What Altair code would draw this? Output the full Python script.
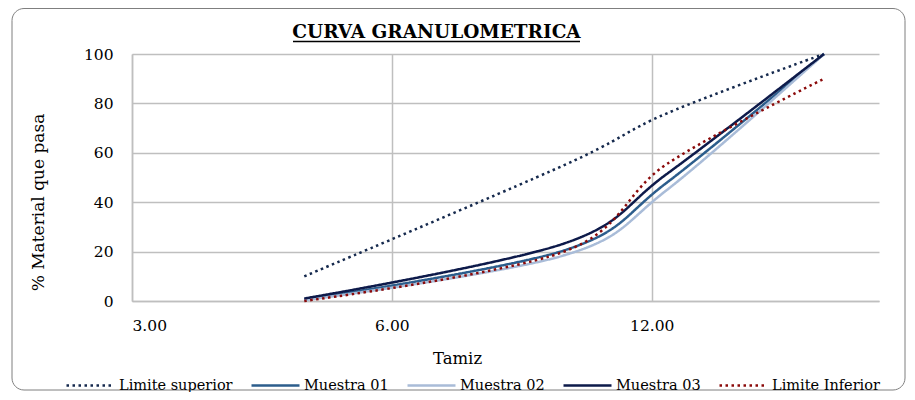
import altair as alt
import pandas as pd

# ---- data ----
tamiz = [4.75, 9.5, 12.5, 19.0]
series_names = ["Limite superior", "Muestra 01", "Muestra 02", "Muestra 03", "Limite Inferior"]
limite_superior = [10, 55, 76, 100]
muestra_01 = [0.6, 20.5, 48, 100]
muestra_02 = [0.3, 18.5, 45, 100]
muestra_03 = [1.0, 23.3, 51.5, 100]
limite_inferior = [0, 20, 55.5, 90]
x_ticks = [3, 6, 12]
y_ticks = [0, 20, 40, 60, 80, 100]
chart_title = "CURVA GRANULOMETRICA"

colors = ["#15294d", "#2c5d8c", "#a9bcd8", "#0d1a4a", "#8b0a0a"]
dashes = [[2.5, 3.5], [1, 0], [1, 0], [1, 0], [2.5, 3.5]]

rows = []
for name, vals in zip(series_names, [limite_superior, muestra_01, muestra_02, muestra_03, limite_inferior]):
    for x, y in zip(tamiz, vals):
        rows.append({"serie": name, "tamiz": x, "pasa": y})
df = pd.DataFrame(rows)

FONT = "DejaVu Serif"

legend = alt.Legend(
    title=None, orient="none", legendX=-67, legendY=306, direction="horizontal",
    columns=5, symbolType="stroke", symbolSize=2304, symbolStrokeWidth=2.5,
    labelFont=FONT, labelFontSize=14.5, labelColor="#000000", labelOffset=3,
    columnPadding=13, padding=0, labelLimit=300,
)

lines = alt.Chart(df).mark_line(interpolate="cardinal", strokeWidth=2.5, clip=False).encode(
    x=alt.X("tamiz:Q",
            scale=alt.Scale(type="log", base=2, domain=[3, 22], nice=False),
            axis=alt.Axis(values=x_ticks, format=".2f", title="Tamiz", ticks=False,
                          labelPadding=24, labelBaseline="middle", labelFontSize=15.5,
                          titleX=325, titleY=57, titleBaseline="middle",
                          titleAlign="center", titleFontSize=16.5)),
    y=alt.Y("pasa:Q",
            scale=alt.Scale(domain=[0, 100], nice=False),
            axis=alt.Axis(values=y_ticks, title="% Material que pasa", ticks=False,
                          labelPadding=19, labelFontSize=15.5,
                          titleX=-94, titleY=148, titleAlign="center", titleBaseline="middle",
                          titleAngle=-90, titleFontSize=17)),
    color=alt.Color("serie:N", scale=alt.Scale(domain=series_names, range=colors), legend=legend),
    strokeDash=alt.StrokeDash("serie:N", scale=alt.Scale(domain=series_names, range=dashes), legend=legend),
)

deco_df = pd.DataFrame({"t": [chart_title]})

border = alt.Chart(deco_df).mark_rect(
    fill="transparent", stroke="#7f7f7f", strokeWidth=1, cornerRadius=12, clip=False
).encode(x=alt.value(-120), x2=alt.value(773), y=alt.value(-45.5), y2=alt.value(336))

title = alt.Chart(deco_df).mark_text(
    font=FONT, fontSize=18.5, fontWeight="bold", align="center", baseline="alphabetic", color="#000000"
).encode(text="t:N", x=alt.value(304.5), y=alt.value(-16))

underline = alt.Chart(deco_df).mark_rule(strokeWidth=1.5, color="#000000").encode(
    x=alt.value(161), x2=alt.value(448), y=alt.value(-12.5)
)

chart = alt.layer(border, lines, title, underline).properties(
    width=747, height=247,
    autosize=alt.AutoSizeParams(type="none"),
    padding={"left": 124, "top": 46, "right": 28, "bottom": 91},
).configure_view(stroke=None).configure_axis(
    labelFont=FONT, labelColor="#000000",
    titleFont=FONT, titleFontWeight="normal", titleColor="#000000",
    gridColor="#bfbfbf", gridWidth=1.5, domainColor="#bfbfbf", domainWidth=1.5,
)

chart.save("out.html", embed_options={"renderer": "svg", "actions": False})
